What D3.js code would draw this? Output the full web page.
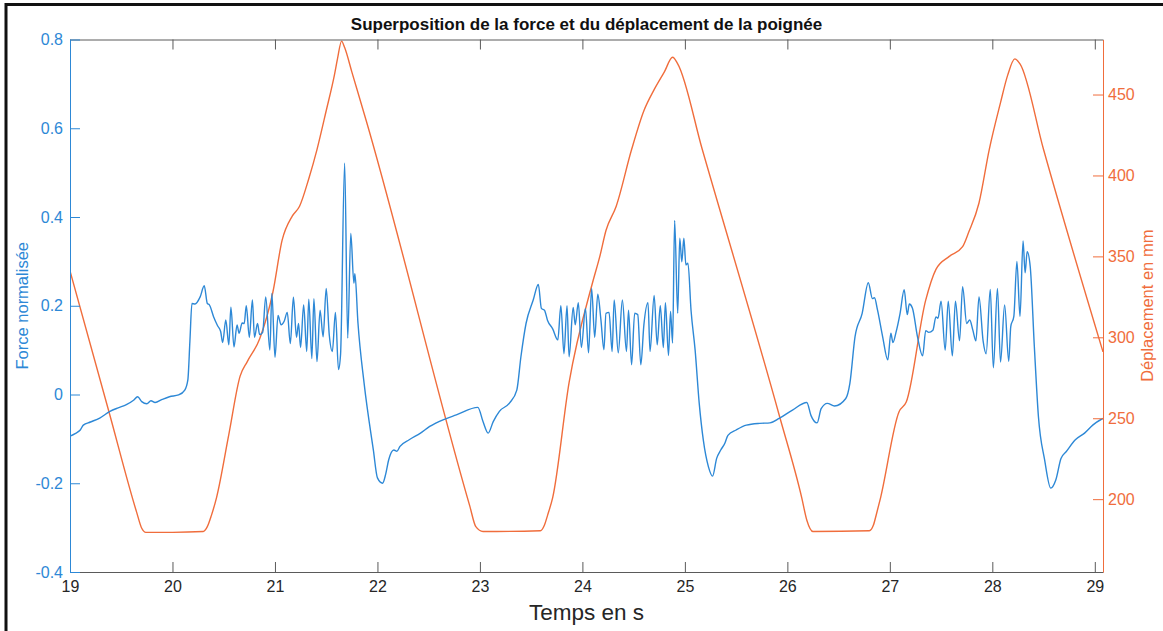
<!DOCTYPE html>
<html>
<head>
<meta charset="utf-8">
<script src="https://cdn.jsdelivr.net/npm/d3@7"></script>
<style>
  html, body { margin: 0; padding: 0; background: #fff; }
  svg { display: block; font-family: "Liberation Sans", Arial, Helvetica, sans-serif; }
</style>
</head>
<body>
<svg id="chart" width="1163" height="631"></svg>
<script>
// Time axis (s)
const timeTicks = [19, 20, 21, 22, 23, 24, 25, 26, 27, 28, 29];
const forceTicks = [-0.4, -0.2, 0, 0.2, 0.4, 0.6, 0.8];
const dispTicks = [200, 250, 300, 350, 400, 450];

// Normalised handle force
const forceTime = [
  19.00, 19.05, 19.10, 19.13, 19.20, 19.29, 19.39, 19.47, 19.55, 19.62, 19.66, 19.70, 19.75, 19.79, 19.83, 19.90, 19.97,
  20.06, 20.12, 20.15, 20.17, 20.19, 20.22, 20.27, 20.31, 20.34, 20.36, 20.40, 20.44, 20.47, 20.49, 20.52, 20.55, 20.57,
  20.60, 20.63, 20.65, 20.68, 20.70, 20.72, 20.75, 20.78, 20.80, 20.83, 20.85, 20.88, 20.91, 20.95, 20.97, 21.00, 21.03,
  21.06, 21.09, 21.12, 21.15, 21.18, 21.21, 21.23, 21.25, 21.28, 21.31, 21.33, 21.36, 21.38, 21.41, 21.44, 21.47, 21.50,
  21.53, 21.56, 21.59, 21.62, 21.64, 21.68, 21.71, 21.74, 21.77, 21.78, 21.81, 21.87, 21.96, 22.00, 22.05, 22.08, 22.11,
  22.16, 22.19, 22.22, 22.31, 22.42, 22.51, 22.64, 22.77, 22.98, 23.03, 23.08, 23.13, 23.19, 23.29, 23.36, 23.40, 23.45,
  23.52, 23.57, 23.60, 23.63, 23.66, 23.71, 23.76, 23.79, 23.82, 23.85, 23.87, 23.91, 23.93, 23.96, 23.99, 24.03, 24.06,
  24.09, 24.12, 24.15, 24.18, 24.21, 24.23, 24.26, 24.29, 24.31, 24.35, 24.39, 24.43, 24.45, 24.48, 24.51, 24.54, 24.57,
  24.60, 24.64, 24.66, 24.70, 24.73, 24.76, 24.79, 24.81, 24.84, 24.86, 24.88, 24.90, 24.93, 24.95, 24.97, 24.99, 25.01,
  25.03, 25.06, 25.10, 25.14, 25.18, 25.23, 25.27, 25.31, 25.35, 25.39, 25.42, 25.50, 25.60, 25.73, 25.83, 25.92, 26.05,
  26.19, 26.23, 26.29, 26.33, 26.39, 26.46, 26.57, 26.61, 26.66, 26.73, 26.79, 26.83, 26.85, 26.88, 26.93, 26.98, 27.01,
  27.03, 27.06, 27.10, 27.14, 27.17, 27.19, 27.22, 27.27, 27.32, 27.35, 27.38, 27.42, 27.45, 27.47, 27.50, 27.54, 27.57,
  27.61, 27.64, 27.68, 27.71, 27.75, 27.78, 27.81, 27.84, 27.87, 27.91, 27.94, 27.98, 28.01, 28.05, 28.08, 28.12, 28.16,
  28.18, 28.21, 28.24, 28.27, 28.30, 28.32, 28.34, 28.37, 28.41, 28.45, 28.51, 28.57, 28.62, 28.67, 28.72, 28.81, 28.90,
  28.98, 29.08
];
const forceValue = [
  -0.094, -0.088, -0.080, -0.069, -0.062, -0.053, -0.038, -0.030, -0.023, -0.013, -0.005, -0.016, -0.021, -0.014, -0.018, -0.011, -0.005,
  -0.001, 0.010, 0.033, 0.120, 0.205, 0.204, 0.220, 0.245, 0.205, 0.202, 0.176, 0.155, 0.142, 0.117, 0.168, 0.112, 0.197,
  0.107, 0.157, 0.138, 0.161, 0.160, 0.200, 0.129, 0.213, 0.129, 0.160, 0.135, 0.140, 0.220, 0.100, 0.228, 0.084, 0.178,
  0.157, 0.165, 0.185, 0.115, 0.219, 0.129, 0.160, 0.106, 0.202, 0.097, 0.215, 0.081, 0.216, 0.074, 0.190, 0.130, 0.239,
  0.134, 0.097, 0.185, 0.056, 0.090, 0.521, 0.127, 0.363, 0.251, 0.272, 0.161, 0.025, -0.125, -0.188, -0.200, -0.180, -0.147,
  -0.125, -0.128, -0.117, -0.102, -0.087, -0.072, -0.057, -0.046, -0.029, -0.061, -0.087, -0.061, -0.038, -0.019, 0.010, 0.085, 0.160,
  0.213, 0.248, 0.194, 0.190, 0.167, 0.148, 0.123, 0.200, 0.092, 0.200, 0.085, 0.196, 0.157, 0.207, 0.106, 0.194, 0.094,
  0.239, 0.129, 0.226, 0.170, 0.101, 0.183, 0.185, 0.097, 0.213, 0.094, 0.213, 0.097, 0.190, 0.067, 0.183, 0.180, 0.067,
  0.157, 0.207, 0.097, 0.223, 0.112, 0.200, 0.106, 0.207, 0.088, 0.187, 0.116, 0.392, 0.183, 0.352, 0.299, 0.352, 0.292,
  0.296, 0.190, 0.100, -0.020, -0.103, -0.163, -0.184, -0.144, -0.125, -0.110, -0.092, -0.080, -0.069, -0.065, -0.064, -0.054, -0.035,
  -0.018, -0.047, -0.064, -0.032, -0.020, -0.026, -0.009, 0.025, 0.130, 0.183, 0.252, 0.216, 0.218, 0.190, 0.130, 0.078, 0.138,
  0.117, 0.140, 0.183, 0.236, 0.180, 0.204, 0.195, 0.130, 0.087, 0.144, 0.140, 0.145, 0.175, 0.172, 0.210, 0.100, 0.210,
  0.087, 0.210, 0.121, 0.243, 0.160, 0.168, 0.145, 0.121, 0.220, 0.121, 0.092, 0.237, 0.060, 0.239, 0.073, 0.202, 0.075,
  0.153, 0.176, 0.300, 0.176, 0.346, 0.274, 0.322, 0.288, 0.108, -0.050, -0.147, -0.211, -0.192, -0.144, -0.129, -0.102, -0.087,
  -0.069, -0.054
];

// Handle displacement (mm)
const dispTime = [
  19.00, 19.38, 19.65, 19.70, 19.74, 20.00, 20.30, 20.34, 20.38, 20.43, 20.55, 20.66, 20.73, 20.85, 20.98, 21.07, 21.17,
  21.24, 21.33, 21.41, 21.50, 21.58, 21.61, 21.65, 21.68, 21.75, 21.89, 22.90, 22.96, 23.03, 23.59, 23.63, 23.66, 23.71,
  23.87, 24.10, 24.17, 24.23, 24.33, 24.48, 24.60, 24.70, 24.80, 24.88, 24.93, 25.17, 25.92, 26.14, 26.19, 26.25, 26.80,
  26.84, 26.87, 26.91, 27.09, 27.16, 27.35, 27.45, 27.58, 27.71, 27.77, 27.87, 27.97, 28.08, 28.15, 28.22, 28.27, 28.50,
  29.08
];
const dispValue = [
  341, 254, 192, 182, 179.5, 179.5, 180, 183, 190, 201, 240, 276, 285, 299, 328, 360, 375,
  381, 398, 416, 440, 462, 472, 483, 479, 464, 434, 196, 183, 180, 180.5, 184, 190, 201,
  272, 334, 350, 366, 381, 416, 440, 453, 464, 473, 469, 416, 252, 201, 187, 180, 180.5,
  184, 191, 201, 254, 260, 323, 342, 350, 356, 365, 383, 416, 445, 462, 472, 469, 416,
  291
];

const BLUE = "#2d88d6";
const ORANGE = "#f06d3c";
const AXIS_GREY = "#5a5a5a";

const svg = d3.select("#chart");
const W = 1163, H = 631;
const plot = { left: 70, right: 1103, top: 39.5, bottom: 572 };

const x = d3.scaleLinear().domain([19, 29.08]).range([plot.left, plot.right]);
const yForce = d3.scaleLinear().domain([-0.4, 0.8]).range([plot.bottom, plot.top]);
const yDisp = d3.scaleLinear().domain([155, 484]).range([plot.bottom, plot.top]);

// Outer frame
svg.append("rect")
  .attr("x", 6).attr("y", 4.5)
  .attr("width", W + 20).attr("height", H + 20)
  .attr("fill", "none").attr("stroke", "#111").attr("stroke-width", 3);

svg.append("defs").append("clipPath").attr("id", "plot-clip")
  .append("rect")
  .attr("x", plot.left).attr("y", plot.top - 2)
  .attr("width", plot.right - plot.left).attr("height", plot.bottom - plot.top + 4);

// Series
const forceData = forceTime.map((t, i) => [t, forceValue[i]]);
const dispData = dispTime.map((t, i) => [t, dispValue[i]]);

const lines = svg.append("g").attr("clip-path", "url(#plot-clip)");

lines.append("path")
  .datum(dispData)
  .attr("fill", "none")
  .attr("stroke", ORANGE)
  .attr("stroke-width", 1.4)
  .attr("d", d3.line().x(d => x(d[0])).y(d => yDisp(d[1])).curve(d3.curveMonotoneX));

lines.append("path")
  .datum(forceData)
  .attr("fill", "none")
  .attr("stroke", BLUE)
  .attr("stroke-width", 1.4)
  .attr("stroke-linejoin", "round")
  .attr("d", d3.line().x(d => x(d[0])).y(d => yForce(d[1])).curve(d3.curveMonotoneX));

// Axes
const TICK = 10;
const TICK_FONT = 16;
// plain hyphen for negatives, "0" without decimals
const fmtForce = v => (v === 0 ? "0" : v.toFixed(1));

const bottomAxis = svg.append("g")
  .attr("transform", `translate(0,${plot.bottom})`)
  .call(d3.axisBottom(x).tickValues(timeTicks).tickSizeInner(-TICK).tickSizeOuter(0).tickPadding(9).tickFormat(d => String(d)));
bottomAxis.select(".domain").attr("stroke", AXIS_GREY);
bottomAxis.selectAll(".tick line").attr("stroke", AXIS_GREY);
bottomAxis.selectAll(".tick text").attr("fill", "#262626").attr("font-size", TICK_FONT);

const topAxis = svg.append("g")
  .attr("transform", `translate(0,${plot.top})`)
  .call(d3.axisTop(x).tickValues(timeTicks).tickSizeInner(-TICK).tickSizeOuter(0).tickFormat(""));
topAxis.select(".domain").attr("stroke", AXIS_GREY);
topAxis.selectAll(".tick line").attr("stroke", AXIS_GREY);

const leftAxis = svg.append("g")
  .attr("transform", `translate(${plot.left},0)`)
  .call(d3.axisLeft(yForce).tickValues(forceTicks).tickSizeInner(-TICK).tickSizeOuter(0).tickPadding(7).tickFormat(fmtForce));
leftAxis.select(".domain").attr("stroke", BLUE);
leftAxis.selectAll(".tick line").attr("stroke", BLUE);
leftAxis.selectAll(".tick text").attr("fill", BLUE).attr("font-size", TICK_FONT);

const rightAxis = svg.append("g")
  .attr("transform", `translate(${plot.right},0)`)
  .call(d3.axisRight(yDisp).tickValues(dispTicks).tickSizeInner(-TICK).tickSizeOuter(0).tickPadding(5).tickFormat(d => String(d)));
rightAxis.select(".domain").attr("stroke", ORANGE);
rightAxis.selectAll(".tick line").attr("stroke", ORANGE);
rightAxis.selectAll(".tick text").attr("fill", ORANGE).attr("font-size", TICK_FONT);

svg.selectAll(".domain, .tick line").attr("stroke-width", 1);

// Titles
svg.append("text")
  .attr("x", (plot.left + plot.right) / 2).attr("y", 30)
  .attr("text-anchor", "middle")
  .attr("font-size", 17).attr("font-weight", "bold").attr("fill", "#111")
  .text("Superposition de la force et du déplacement de la poignée");

svg.append("text")
  .attr("x", (plot.left + plot.right) / 2).attr("y", 620)
  .attr("text-anchor", "middle")
  .attr("font-size", 22.5).attr("fill", "#262626")
  .text("Temps en s");

svg.append("text")
  .attr("transform", `translate(28,${(plot.top + plot.bottom) / 2}) rotate(-90)`)
  .attr("text-anchor", "middle")
  .attr("font-size", 16.5).attr("fill", BLUE)
  .text("Force normalisée");

svg.append("text")
  .attr("transform", `translate(1153,${(plot.top + plot.bottom) / 2}) rotate(-90)`)
  .attr("text-anchor", "middle")
  .attr("font-size", 16.5).attr("fill", ORANGE)
  .text("Déplacement en mm");
</script>
</body>
</html>
